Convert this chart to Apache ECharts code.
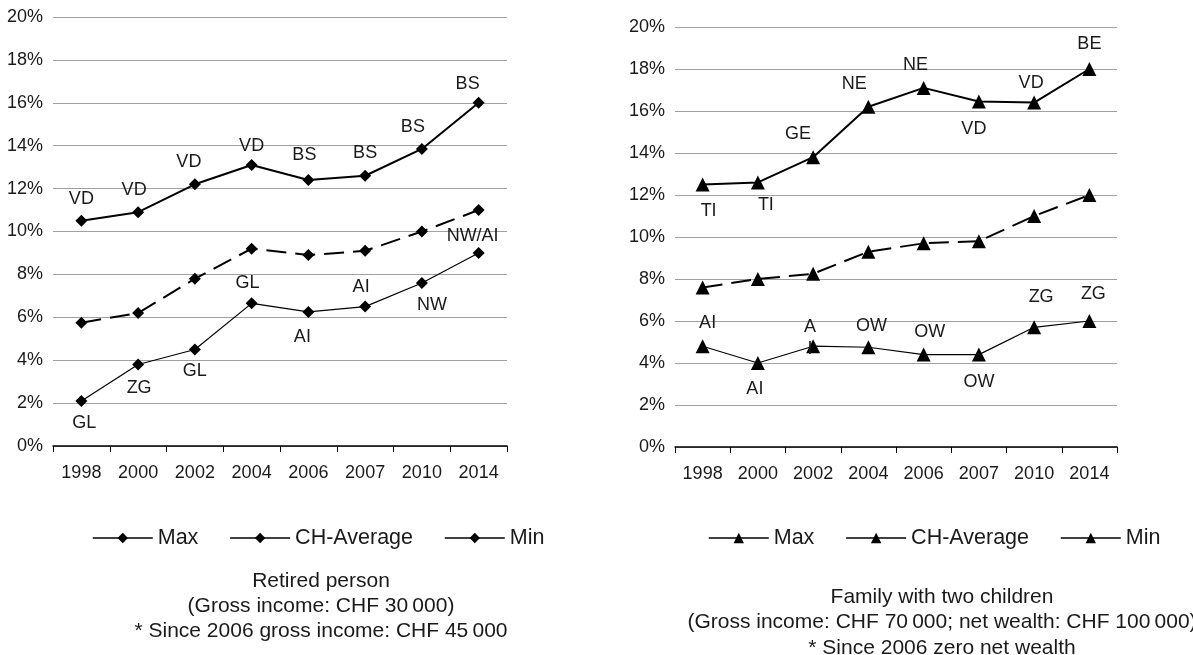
<!DOCTYPE html>
<html><head><meta charset="utf-8">
<script src="https://cdn.jsdelivr.net/npm/echarts@6/dist/echarts.min.js"></script>
<style>html,body{margin:0;padding:0;background:#fff}#c{width:1193px;height:655px}</style>
</head><body><div id="c"></div>
<script>
// ---- data ----
const years = ['1998','2000','2002','2004','2006','2007','2010','2014'];
const retMax = [10.5, 10.9, 12.2, 13.1, 12.4, 12.6, 13.85, 16.0];
const retAvg = [5.75, 6.2, 7.8, 9.2, 8.9, 9.1, 10.0, 11.0];
const retMin = [2.1, 3.8, 4.5, 6.65, 6.25, 6.5, 7.6, 9.0];
const retMaxLab = ['VD','VD','VD','VD','BS','BS','BS','BS'];
const retMinLab = ['GL','ZG','GL','GL','AI','AI','NW','NW/AI'];
const famMax = [12.5, 12.6, 13.8, 16.2, 17.1, 16.45, 16.4, 18.0];
const famAvg = [7.6, 8.0, 8.25, 9.3, 9.7, 9.8, 11.0, 12.0];
const famMin = [4.8, 4.0, 4.8, 4.75, 4.4, 4.4, 5.7, 6.0];
const famMaxLab = ['TI','TI','GE','NE','NE','VD','VD','BE'];
const famMinLab = ['AI','AI','A\nI','OW','OW','OW','ZG','ZG'];
const seriesNames = ['Max','CH-Average','Min'];
const leftTitle = ['Retired person','(Gross income: CHF 30\u2009000)','* Since 2006 gross income: CHF 45\u2009000'];
const rightTitle = ['Family with two children','(Gross income: CHF 70\u2009000; net wealth: CHF 100\u2009000)','* Since 2006 zero net wealth'];

// ---- label placement (style) ----
const retMaxPos = ['top','top','top','top','top','top','top','top'];
const retMaxOff = [[0,0],[-4,0],[-6,0],[0,3],[-4,-3],[0,-1],[-9,0],[-11,3]];
const retMinPos = ['bottom','bottom','bottom','top','bottom','top','bottom','top'];
const retMinOff = [[3,0],[1,2],[0,0],[-4,2],[-6,3],[-4,2],[10,0],[-6,5]];
const famMaxPos = ['bottom','bottom','top','top','top','bottom','top','top'];
const famMaxOff = [[6,4],[8,0],[-15,0],[-14,0],[-8,0],[-5,4],[-3,3],[0,-2]];
const famMinPos = ['top','bottom','inside','top','top','bottom','top','top'];
const famMinOff = [[5,0],[-3,3],[-3,-8],[3,2],[6,0],[0,4],[7,-7],[4,-4]];

const FONT = '"Liberation Sans", Arial, Helvetica, sans-serif';
const TXT = '#1a1a1a';

function mk(vals, labs, pos, off) {
  return vals.map((v, i) => ({
    value: v,
    label: labs ? { show: true, formatter: labs[i], position: pos[i], offset: off[i] } : { show: false }
  }));
}

function xAxis(gi) {
  return {
    type: 'category', gridIndex: gi, data: years, boundaryGap: true,
    axisLine: { show: true, lineStyle: { color: '#000', width: 1.5 } },
    axisTick: { show: true, length: 6, lineStyle: { color: '#000', width: 1 } },
    axisLabel: { fontSize: 18, color: TXT, fontFamily: FONT, margin: 18 },
    splitLine: { show: false }
  };
}
function yAxis(gi) {
  return {
    type: 'value', gridIndex: gi, min: 0, max: 20, interval: 2,
    axisLine: { show: false }, axisTick: { show: false },
    axisLabel: { formatter: '{value}%', fontSize: 18, color: TXT, fontFamily: FONT, margin: 10 },
    splitLine: { show: true, lineStyle: { color: '#a0a0a0', width: 1 } }
  };
}

function ser(name, gi, data, symbol, size, lineStyle) {
  return {
    type: 'line', name: name, xAxisIndex: gi, yAxisIndex: gi, data: data,
    symbol: symbol, symbolSize: size, showAllSymbol: true,
    itemStyle: { color: '#000' },
    lineStyle: Object.assign({ color: '#000' }, lineStyle),
    label: { fontSize: 18, color: TXT, fontFamily: FONT, distance: 5, lineHeight: 22 },
    emphasis: { disabled: true },
    z: 3
  };
}

const solidMax = { width: 2, type: 'solid' };
const dashAvg = { width: 2, type: [20, 9] };
const thinMin = { width: 1.2, type: 'solid' };
const rn = seriesNames.map(n => n + ' ');

const legendBase = {
  top: 527, padding: 0, itemWidth: 60, itemHeight: 13, itemGap: 31,
  textStyle: { fontSize: 21.5, color: TXT, fontFamily: FONT },
  lineStyle: { type: 'solid', width: 1.5 },
  selectedMode: false
};

const titleStyle = { fontSize: 21, fill: TXT, font: '21px ' + FONT, textAlign: 'center', textVerticalAlign: 'middle' };
const leftTitleY = [581, 606, 631];
const rightTitleY = [597, 622, 648];

const option = {
  animation: false,
  backgroundColor: '#fff',
  textStyle: { fontFamily: FONT },
  grid: [
    { left: 53, top: 17, width: 454, height: 429, outerBoundsMode: 'none', containLabel: false },
    { left: 675, top: 27, width: 442, height: 420, outerBoundsMode: 'none', containLabel: false }
  ],
  xAxis: [xAxis(0), xAxis(1)],
  yAxis: [yAxis(0), yAxis(1)],
  legend: [
    Object.assign({}, legendBase, { left: 92, data: seriesNames }),
    Object.assign({}, legendBase, { left: 708, data: rn, formatter: n => n.trim() })
  ],
  series: [
    ser(seriesNames[0], 0, mk(retMax, retMaxLab, retMaxPos, retMaxOff), 'diamond', 12, solidMax),
    ser(seriesNames[1], 0, mk(retAvg), 'diamond', 12, dashAvg),
    ser(seriesNames[2], 0, mk(retMin, retMinLab, retMinPos, retMinOff), 'diamond', 12, thinMin),
    ser(rn[0], 1, mk(famMax, famMaxLab, famMaxPos, famMaxOff), 'triangle', 14, solidMax),
    ser(rn[1], 1, mk(famAvg), 'triangle', 14, dashAvg),
    ser(rn[2], 1, mk(famMin, famMinLab, famMinPos, famMinOff), 'triangle', 14, thinMin)
  ],
  graphic: [].concat(
    leftTitle.map((t, i) => ({ type: 'text', x: 321, y: leftTitleY[i], style: Object.assign({ text: t }, titleStyle) })),
    rightTitle.map((t, i) => ({ type: 'text', x: 942, y: rightTitleY[i], style: Object.assign({ text: t }, titleStyle) }))
  )
};

const chart = echarts.init(document.getElementById('c'), null, { renderer: 'canvas' });
chart.setOption(option);
</script>
</body></html>
